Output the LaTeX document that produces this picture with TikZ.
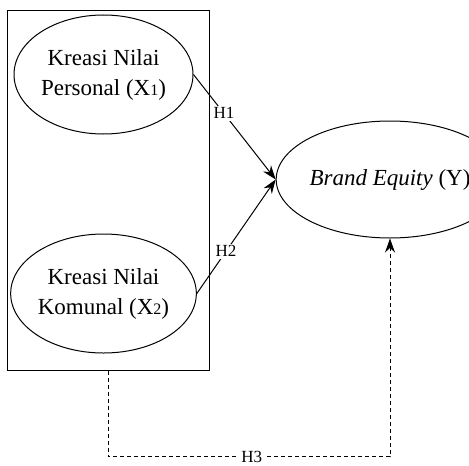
\documentclass[tikz,border=0pt]{standalone}
\usepackage{fontspec}
\setmainfont{Liberation Serif}
\usetikzlibrary{shapes.geometric,arrows.meta}
\newcommand{\smidx}[1]{{\fontsize{8}{8}\selectfont #1}}
\begin{document}
\begin{tikzpicture}[x=0.5pt,y=-0.5pt,
    latent/.style={draw, ellipse, line width=0.5pt, inner sep=0pt, align=center, font=\fontsize{11.5}{15}\selectfont},
    hyp/.style={fill=white, inner sep=1pt, font=\fontsize{8.5}{9}\selectfont},
    path/.style={line width=0.5pt, -{Stealth[length=7pt,width=5pt]}}]
    \useasboundingbox (0,0) rectangle (469,465);
    \node[draw, line width=0.5pt, minimum width=101pt, minimum height=179.5pt] (group) at (108,190.5) {};
    \node[latent, minimum width=89.5pt, minimum height=59.5pt] (x1) at (103.5,74.5) {Kreasi Nilai\\Personal (X\smidx{1})};
    \node[latent, minimum width=89.5pt, minimum height=59.5pt] (x2) at (103.5,293.5) {Kreasi Nilai\\Komunal (X\smidx{2})};
    \node[latent, minimum width=90pt, minimum height=58.5pt] (y) at (390,179.5) {\textit{Brand Equity} (Y)};
    \draw[path] (x1.east) -- node[hyp, pos=0.37] {H1} (y.west);
    \draw[path] (x2.east) -- node[hyp, pos=0.37] {H2} (y.west);
    \draw[path, dash pattern=on 2pt off 1.5pt] (group.south) -- ++(0,86) -| node[hyp, pos=0.255] {H3} (y.south);
\end{tikzpicture}
\end{document}
